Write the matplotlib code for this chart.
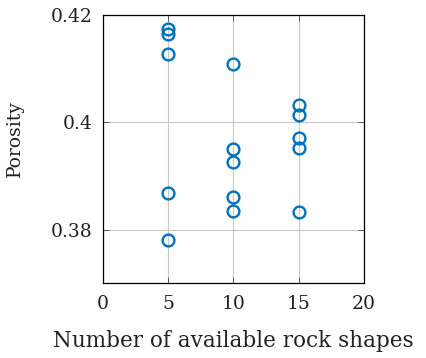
import matplotlib
matplotlib.use("Agg")
import matplotlib.pyplot as plt

# rock shape count vs porosity
shapes_5 = [0.4174, 0.4164, 0.4126, 0.3868, 0.3780]
shapes_10 = [0.4108, 0.3950, 0.3926, 0.3860, 0.3835]
shapes_15 = [0.4031, 0.4014, 0.3970, 0.3952, 0.3832]
shape_counts = [5, 10, 15]
porosity = [shapes_5, shapes_10, shapes_15]

x_ticks = [0, 5, 10, 15, 20]
y_ticks = [0.38, 0.40, 0.42]
y_tick_labels = ["0.38", "0.4", "0.42"]

plt.rcParams['font.family'] = ['DejaVu Serif']
plt.rcParams['font.size'] = 13.5

fig = plt.figure(figsize=(4.26, 3.58), dpi=100)
ax = fig.add_axes([0.241, 0.2087, 0.6134, 0.7503])

xs, ys = [], []
for n, vals in zip(shape_counts, porosity):
    xs += [n] * len(vals)
    ys += vals
ax.plot(xs, ys, 'o', ls='none', mfc='none', mec='#0072BD', ms=8.5, mew=1.7)

ax.set_xlim(0, 20)
ax.set_ylim(0.37, 0.42)
ax.set_xticks(x_ticks)
ax.set_yticks(y_ticks)
ax.set_yticklabels(y_tick_labels)
ax.grid(True, color='#c8c8c8', lw=0.8)
ax.set_axisbelow(True)
ax.tick_params(direction='in', top=True, right=True, length=4, width=0.6,
               color='#444444', pad=7, labelcolor='#222222')
ax.tick_params(axis='x', pad=8.5)
for s in ax.spines.values():
    s.set_linewidth(0.9)
ax.set_xlabel("Number of available rock shapes", fontsize=15.5, labelpad=12,
              color='#222222')
ax.set_ylabel("Porosity", color='#222222')
ax.yaxis.set_label_coords(-0.30, 0.54)

fig.savefig("out.png", dpi=100)
